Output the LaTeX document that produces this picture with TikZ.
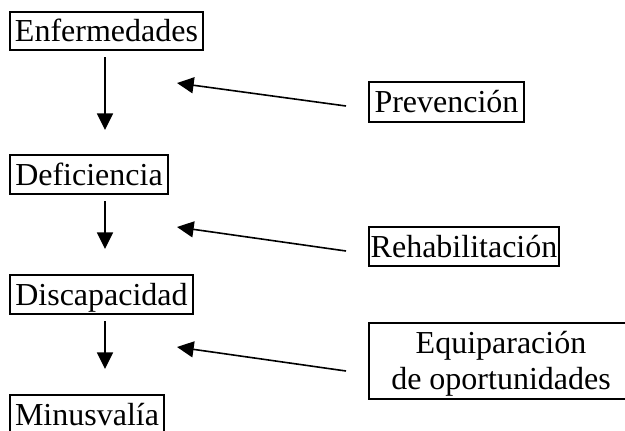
\documentclass[tikz,border=0pt]{standalone}
\usepackage{fontspec}
\setmainfont{Liberation Serif}
\usetikzlibrary{arrows.meta}
\begin{document}
\begin{tikzpicture}[x=0.75pt,y=-0.75pt,
  box/.style={draw, line width=1.4pt, inner sep=0pt, text height=16.4pt, text depth=0pt,
    font=\fontsize{24}{27}\selectfont},
  arr/.style={line width=1.2pt, -{Triangle[length=12.5pt,width=12pt]}}]
\useasboundingbox (0,0) rectangle (625,430);
\clip (0,0) rectangle (625,430);
\node[box, minimum width=193*0.75pt, minimum height=38*0.75pt] (enf) at (106.5,31) {Enfermedades};
\node[box, minimum width=158*0.75pt, minimum height=39*0.75pt] (def) at (89,174.5) {Deficiencia};
\node[box, minimum width=183*0.75pt, minimum height=39*0.75pt] (dis) at (101.5,294.5) {Discapacidad};
\node[box, minimum width=154*0.75pt, minimum height=39*0.75pt] (min) at (87,414.5) {Minusvalía};
\node[box, minimum width=155*0.75pt, minimum height=40*0.75pt] (pre) at (446.5,102) {Prevención};
\node[box, minimum width=190*0.75pt, minimum height=39*0.75pt] (reh) at (464,246.5) {Rehabilitación};
\node[box, align=center, text height=43.4pt, minimum width=264*0.75pt, minimum height=76*0.75pt] (equ) at (501,361) {Equiparación\\de oportunidades};
% vertical arrows
\coordinate (a1s) at (105,57);  \coordinate (a1e) at (105,130);
\coordinate (a2s) at (105,201); \coordinate (a2e) at (105,249);
\coordinate (a3s) at (105,321); \coordinate (a3e) at (105,369);
\draw[arr] (a1s) -- (a1e);
\draw[arr] (a2s) -- (a2e);
\draw[arr] (a3s) -- (a3e);
% diagonal arrows
\coordinate (b1s) at (346,106); \coordinate (b1e) at (177,83);
\coordinate (b2s) at (346,251); \coordinate (b2e) at (177,227);
\coordinate (b3s) at (346,371); \coordinate (b3e) at (177,347);
\draw[arr] (b1s) -- (b1e);
\draw[arr] (b2s) -- (b2e);
\draw[arr] (b3s) -- (b3e);
\end{tikzpicture}
\end{document}
